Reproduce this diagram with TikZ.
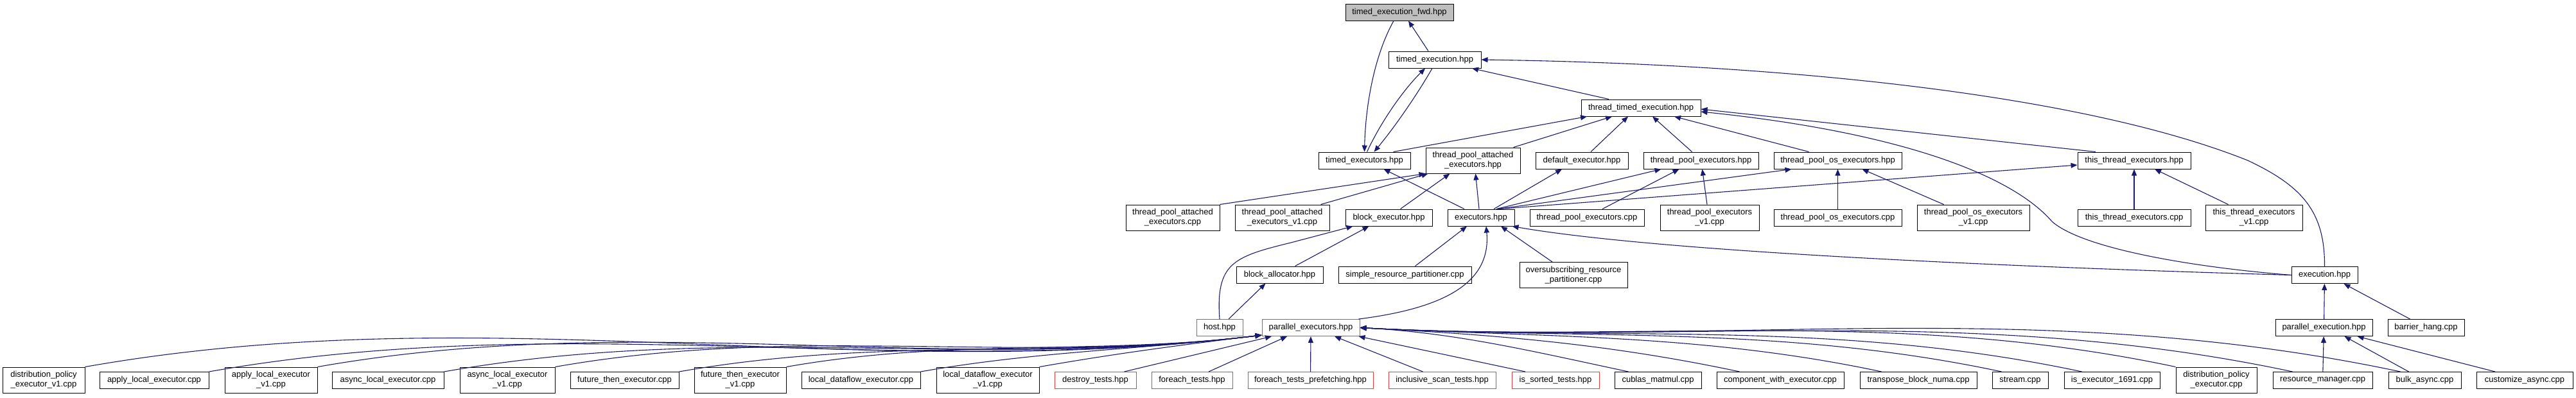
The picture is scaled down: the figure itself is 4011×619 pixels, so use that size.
\documentclass[tikz,border=0pt]{standalone}
\usepackage{fontspec}
\setmainfont{Liberation Sans}
\usetikzlibrary{arrows.meta}
\definecolor{inclblue}{RGB}{25,25,112}
\definecolor{redline}{RGB}{240,60,60}
\definecolor{rootgray}{RGB}{191,191,191}

\begin{document}
\begin{tikzpicture}[x=1pt, y=-1pt,
  filebox/.style={draw=black, line width=1pt, fill=white, inner sep=2pt,
    minimum height=26pt, align=center, font=\fontsize{13}{15}\selectfont},
  twoline/.style={minimum height=40pt},
  redbox/.style={filebox, draw=redline},
  incl/.style={draw=inclblue, line width=1.1pt, -{Triangle[length=10pt,width=8pt]}}]
  \useasboundingbox (0,0) rectangle (4011,619);

  % top of the graph
  \node[filebox, fill=rootgray, minimum width=168pt] (fwd) at (2179,19) {timed\_execution\_fwd.hpp};
  \node[filebox, minimum width=144pt] (texec) at (2234,93) {timed\_execution.hpp};
  \node[filebox, minimum width=186pt] (ttexec) at (2555,168) {thread\_timed\_execution.hpp};

  % headers
  \node[filebox, minimum width=143pt] (tex) at (2124.5,250) {timed\_executors.hpp};
  \node[filebox, twoline, minimum width=147pt] (tpah) at (2293.5,250) {thread\_pool\_attached\\\_executors.hpp};
  \node[filebox, minimum width=144pt] (defex) at (2463,250) {default\_executor.hpp};
  \node[filebox, minimum width=179pt] (tpeh) at (2648.5,250) {thread\_pool\_executors.hpp};
  \node[filebox, minimum width=199pt] (tposh) at (2861.5,250) {thread\_pool\_os\_executors.hpp};
  \node[filebox, minimum width=176pt] (tteh) at (3323,250) {this\_thread\_executors.hpp};

  \node[filebox, twoline, minimum width=146pt] (tpacpp) at (1826,339) {thread\_pool\_attached\\\_executors.cpp};
  \node[filebox, twoline, minimum width=147pt] (tpav1) at (1996.5,339) {thread\_pool\_attached\\\_executors\_v1.cpp};
  \node[filebox, minimum width=135pt] (bexh) at (2162.5,339) {block\_executor.hpp};
  \node[filebox, minimum width=104pt] (exh) at (2306,339) {executors.hpp};
  \node[filebox, minimum width=178pt] (tpecpp) at (2471,339) {thread\_pool\_executors.cpp};
  \node[filebox, twoline, minimum width=154pt] (tpev1) at (2662,339) {thread\_pool\_executors\\\_v1.cpp};
  \node[filebox, minimum width=199pt] (toscpp) at (2861.5,339) {thread\_pool\_os\_executors.cpp};
  \node[filebox, twoline, minimum width=175pt] (tosv1) at (3072.5,339) {thread\_pool\_os\_executors\\\_v1.cpp};
  \node[filebox, minimum width=176pt] (ttecpp) at (3323,339) {this\_thread\_executors.cpp};
  \node[filebox, twoline, minimum width=151pt] (ttev1) at (3509.5,339) {this\_thread\_executors\\\_v1.cpp};

  \node[filebox, minimum width=135pt] (balloc) at (1992.5,428) {block\_allocator.hpp};
  \node[filebox, minimum width=207pt] (srp) at (2187.5,428) {simple\_resource\_partitioner.cpp};
  \node[filebox, twoline, minimum width=168pt] (orp) at (2450,428.5) {oversubscribing\_resource\\\_partitioner.cpp};
  \node[filebox, minimum width=103pt] (exec) at (3619.5,428.5) {execution.hpp};

  \node[redbox, minimum width=72pt] (host) at (1899,510.5) {host.hpp};
  \node[redbox, minimum width=152pt] (pexh) at (2041,510.5) {parallel\_executors.hpp};
  \node[filebox, minimum width=151pt] (pexec) at (3618.5,510.5) {parallel\_execution.hpp};
  \node[filebox, minimum width=119pt] (barrier) at (3777.5,510.5) {barrier\_hang.cpp};

  % sources and tests
  \node[filebox, twoline, minimum width=128pt] (dpv1) at (68,592) {distribution\_policy\\\_executor\_v1.cpp};
  \node[filebox, minimum width=170pt] (ale) at (240,592.5) {apply\_local\_executor.cpp};
  \node[filebox, twoline, minimum width=144pt] (alev1) at (422,592) {apply\_local\_executor\\\_v1.cpp};
  \node[filebox, minimum width=174pt] (asle) at (604,592.5) {async\_local\_executor.cpp};
  \node[filebox, twoline, minimum width=148pt] (aslev1) at (790,592) {async\_local\_executor\\\_v1.cpp};
  \node[filebox, minimum width=169pt] (fte) at (972.5,592.5) {future\_then\_executor.cpp};
  \node[filebox, twoline, minimum width=143pt] (ftev1) at (1152.5,592) {future\_then\_executor\\\_v1.cpp};
  \node[filebox, minimum width=185pt] (lde) at (1340.5,592.5) {local\_dataflow\_executor.cpp};
  \node[filebox, twoline, minimum width=160pt] (ldev1) at (1538,592) {local\_dataflow\_executor\\\_v1.cpp};
  \node[redbox, minimum width=127pt] (destroy) at (1705.5,592.5) {destroy\_tests.hpp};
  \node[redbox, minimum width=126pt] (foreach) at (1856,592.5) {foreach\_tests.hpp};
  \node[redbox, minimum width=195pt] (fprefetch) at (2040.5,592.5) {foreach\_tests\_prefetching.hpp};
  \node[redbox, minimum width=167pt] (iscan) at (2245.5,592.5) {inclusive\_scan\_tests.hpp};
  \node[redbox, minimum width=136pt] (issorted) at (2422,592.5) {is\_sorted\_tests.hpp};
  \node[filebox, minimum width=135pt] (cublas) at (2581.5,592.5) {cublas\_matmul.cpp};
  \node[filebox, minimum width=198pt] (cwe) at (2772,592.5) {component\_with\_executor.cpp};
  \node[filebox, minimum width=182pt] (tbn) at (2987,592.5) {transpose\_block\_numa.cpp};
  \node[filebox, minimum width=87pt] (stream) at (3145.5,592.5) {stream.cpp};
  \node[filebox, minimum width=149pt] (ise) at (3288.5,592.5) {is\_executor\_1691.cpp};
  \node[filebox, twoline, minimum width=126pt] (dpe) at (3451,592) {distribution\_policy\\\_executor.cpp};
  \node[filebox, minimum width=155pt] (rm) at (3616.5,592.5) {resource\_manager.cpp};
  \node[filebox, minimum width=113pt] (bulk) at (3775.5,592.5) {bulk\_async.cpp};
  \node[filebox, minimum width=150pt] (cust) at (3931,592.5) {customize\_async.cpp};

  % upper includes
  \draw[incl] ([xshift=-10pt]texec.north) -- ([xshift=14pt]fwd.south);
  \draw[incl] ([xshift=-9pt]fwd.south) .. controls (2138,90) and (2126,170) .. (tex.north);
  \draw[incl] ([xshift=4pt]tex.north) .. controls (2150,190) and (2185,140) .. ([xshift=-15pt]texec.south);
  \draw[incl] ([xshift=-4pt]texec.south) .. controls (2205,150) and (2170,200) .. ([xshift=15pt]tex.north);
  \draw[incl] ([xshift=-50pt]ttexec.north) -- ([xshift=58pt]texec.south);
  \draw[incl] (exec.north) .. controls (3620,330) and (3585,290) .. (3500,250)
        .. controls (3250,150) and (2800,100) .. (texec.east);
  \draw[incl] ([xshift=45pt]tex.north) -- ([xshift=-84pt]ttexec.south);
  \draw[incl] ([xshift=63pt]tpah.north) -- ([xshift=-45pt]ttexec.south);
  \draw[incl] ([xshift=14pt]defex.north) -- ([xshift=-20pt]ttexec.south);
  \draw[incl] ([xshift=-14pt]tpeh.north) -- ([xshift=18pt]ttexec.south);
  \draw[incl] ([xshift=-45pt]tposh.north) -- ([xshift=52pt]ttexec.south);
  \draw[incl] ([xshift=-60pt]tteh.north) -- ([yshift=-2pt]ttexec.east);
  \draw[incl] (exec.west) .. controls (3400,415) and (3240,385) .. (3195,345)
        .. controls (3130,270) and (2950,205) .. ([yshift=-6pt]ttexec.east);

  % header row
  \draw[incl] (tpacpp.north east) -- (tpah.south west);
  \draw[incl] ([xshift=60pt]tpav1.north) -- ([xshift=4pt]tpah.south west);
  \draw[incl] ([xshift=18pt]bexh.north) -- ([xshift=-36pt]tpah.south);
  \draw[incl] ([xshift=-3pt]exh.north) -- ([xshift=4pt]tpah.south);
  \draw[incl] ([xshift=-26pt]exh.north) -- ([xshift=30pt]tex.south);
  \draw[incl] ([xshift=20pt]exh.north) -- ([xshift=-31pt]defex.south);
  \draw[incl] ([xshift=24pt]exh.north) -- ([xshift=-62pt]tpeh.south);
  \draw[incl] ([xshift=26pt]exh.north) -- ([xshift=-72pt]tposh.south);
  \draw[incl] ([xshift=28pt]exh.north) -- ([yshift=-7pt]tteh.west);
  \draw[incl] ([xshift=24pt]tpecpp.north) -- ([xshift=-34pt]tpeh.south);
  \draw[incl] ([xshift=-4pt]tpev1.north) -- ([xshift=2pt]tpeh.south);
  \draw[incl] (toscpp) -- (tposh);
  \draw[incl] ([xshift=-46pt]tosv1.north) -- ([xshift=38pt]tposh.south);
  \draw[incl] (ttecpp) -- (tteh);
  \draw[incl] ([xshift=-40pt]ttev1.north) -- ([xshift=32pt]tteh.south);

  % middle
  \draw[incl] ([xshift=24pt]balloc.north) -- ([xshift=-31pt]bexh.south);
  \draw[incl] ([xshift=14pt]host.north) -- ([xshift=-22pt]balloc.south);
  \draw[incl] (host.north) .. controls (1893,410) and (1920,400) .. (2010,378) -- ([xshift=-56pt]bexh.south);
  \draw[incl] ([xshift=16pt]srp.north) -- ([xshift=-22pt]exh.south);
  \draw[incl] ([xshift=-2pt]pexh.north east) .. controls (2250,480) and (2322,440) .. ([xshift=8pt]exh.south);
  \draw[incl] ([xshift=-33pt]orp.north) -- ([xshift=31pt]exh.south);
  \draw[incl] (exec.west) .. controls (3200,418) and (2600,395) .. ([xshift=-4pt]exh.south east);
  \draw[incl] (pexec) -- (exec);
  \draw[incl] ([xshift=-25pt]barrier.north) -- ([xshift=30pt]exec.south);

  % bottom row
  \foreach \n/\d in {dpv1/640, ale/570, alev1/510, asle/450, aslev1/385, fte/320, ftev1/260, lde/185, ldev1/120}
    \draw[incl] (\n.north east) .. controls +(10:\d pt) and +(187:\d pt) .. ([yshift=2pt]pexh.south west);
  \draw[incl] ([xshift=45pt]destroy.north) -- ([xshift=-61pt]pexh.south);
  \draw[incl] ([xshift=26pt]foreach.north) -- ([xshift=-37pt]pexh.south);
  \draw[incl] (fprefetch) -- (pexh);
  \draw[incl] ([xshift=-30pt]iscan.north) -- ([xshift=37pt]pexh.south);
  \draw[incl] ([xshift=-47pt]issorted.north) -- ([xshift=-2pt]pexh.south east);
  \foreach \n/\s/\d in {cublas/22/150, cwe/36/210, tbn/34/285, stream/15/350, ise/28/395, dpe/0/445, rm/31/510, bulk/19/570}
    \draw[incl] ([xshift=\s pt]\n.north west) .. controls +(168:\d pt) and +(-3:\d pt) .. (pexh.east);
  \draw[incl] (rm) -- (pexec);
  \draw[incl] ([xshift=-25pt]bulk.north) -- ([xshift=32pt]pexec.south);
  \draw[incl] ([xshift=-46pt]cust.north) -- ([xshift=52pt]pexec.south);
\end{tikzpicture}
\end{document}
